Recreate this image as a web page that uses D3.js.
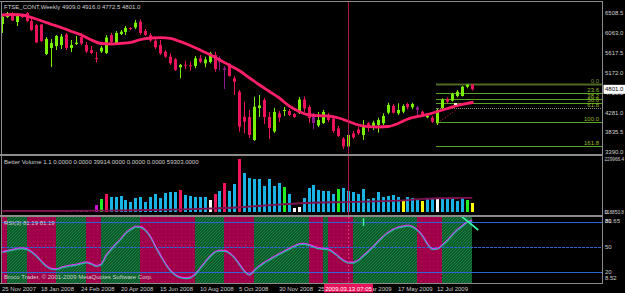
<!DOCTYPE html>
<html><head><meta charset="utf-8">
<script src="https://cdn.jsdelivr.net/npm/d3@7"></script>
<style>
html,body{margin:0;padding:0;background:#000;overflow:hidden}
svg{display:block}
text{font-family:"Liberation Sans",Arial,sans-serif;font-size:6px}
</style></head>
<body><svg id="chart" width="625" height="293"></svg>
<script>
// ---------- DATA ----------
const symbolTitle = "FTSE_CONT,Weekly  4909.0 4916.0 4772.5 4801.0";
const opens  = [6268,6425,6504,6313,6470,6515,6336,6246,6257,5594,5729,5774,5796,6032,5729,5819,5976,5797,5684,5505,5651,5617,6021,5841,6044,6089,6178,6190,6320,6111,6021,5893,5797,5646,5534,5475,5296,5354,5341,5325,5498,5385,5415,5572,5498,5273,5370,5049,4748,4186,4179,3663,4382,4561,4179,3854,4262,4314,4314,4247,4269,4572,4404,4202,3988,4045,4224,4146,3921,3697,3517,3809,3899,3775,4038,3961,3999,4038,4276,4426,4262,4298,4471,4397,4397,4298,4173,4164,4038,4375,4577,4545,4651,4651,4860,4909];
const highs  = [6470,6538,6538,6515,6493,6538,6381,6268,6268,5976,5931,6021,6044,6066,5909,5999,6066,5864,5774,5639,5774,6021,6066,6111,6133,6223,6201,6358,6369,6156,6066,5931,5909,5684,5610,5505,5370,5444,5421,5549,5572,5534,5646,5646,5549,5325,5392,5100,4786,4523,4337,4635,4673,4606,4292,4382,4314,4404,4359,4269,4628,4640,4449,4269,4292,4337,4269,4179,3977,3730,3820,3865,3961,4112,4067,4096,4164,4262,4501,4471,4487,4465,4501,4501,4426,4325,4247,4202,4375,4599,4622,4725,4786,4876,4914,4916];
const lows   = [6066,6403,6336,6223,6403,6313,6111,5841,5864,5572,5302,5684,5707,5684,5639,5797,5797,5617,5594,5403,5617,5594,5819,5819,6021,6021,6133,6156,6021,5999,5864,5707,5572,5505,5347,5212,5049,5251,5219,5273,5392,5296,5385,5197,5235,4808,5085,4673,3849,3813,3708,3640,4179,4022,3685,3820,4067,4202,4202,4157,4247,4292,4045,3910,3955,4022,4067,3820,3730,3461,3483,3685,3775,3663,3849,3887,3827,3999,4240,4258,4224,4262,4352,4352,4224,4202,4150,4045,3999,4337,4487,4523,4622,4640,4824,4772.5];
const closes = [6425,6515,6347,6493,6425,6336,6133,5853,5886,5931,5841,5999,5987,5729,5797,5848,5830,5650,5617,5489,5736,5965,5864,6066,6095,6178,6156,6297,6066,6021,5898,5745,5610,5534,5385,5235,5347,5341,5325,5498,5421,5471,5610,5257,5421,5235,5100,4972,3961,4074,3775,4411,4438,4179,3932,4292,4168,4337,4224,4179,4572,4370,4157,4045,4112,4292,4112,3865,3753,3517,3775,3724,3813,3977,3961,4051,4112,4202,4449,4276,4337,4426,4397,4471,4337,4224,4209,4074,4337,4561,4523,4696,4748,4860,4905,4801];
const purpleBars = [44,45,63,84];

const maIdx = [0,2,4,6,8,10,12,14,16,18,20,22,24,26,28,30,32,34,36,38,40,42,44,46,48,50,52,54,56,58,60,62,64,66,68,70,72,74,76,78,80,82,84,86,88,90,92,94,95];
const maVal = [6470,6482,6470,6410,6336,6257,6185,6100,6021,5909,5830,5819,5835,5857,5920,5954,5960,5943,5871,5785,5684,5579,5460,5336,5213,5055,4898,4752,4606,4426,4303,4224,4209,4202,4157,4078,3999,3961,3955,3966,4033,4134,4191,4236,4303,4370,4438,4487,4505];

const priceTicks = [6508.5,6063.0,5617.5,5172.0,4726.5,4281.0,3835.5,3390.0];
const lastPrice = 4801.0;

const fibHigh = 4916, fibLow = 4060, fibStartIdx = 88;
const fibLevels = [0.0,23.6,38.2,50.0,61.8,100.0,161.8];

const trendIdx = [88,92], trendPrice = [4045,4359];
const markerIdx = 91.6, markerPrice = 4471;

const volumeLabel = "Better Volume 1.1 0.0000 0.0000 39914.0000 0.0000 0.0000 59303.0000";
const volumes = [0,0,0,0,2500,0,0,2500,2500,2500,2500,2500,2500,2500,2500,2500,2500,2500,0,
 29537,54855,74687,62028,64560,67514,50635,42196,57809,63294,40930,63294,74687,60340,81438,84392,84392,92831,71733,66248,63294,61184,63294,50635,74687,89455,122368,89455,116883,223639,165830,144732,140513,137137,109710,138403,109710,121102,104224,75109,18988,22364,60340,101270,113929,91565,88612,86502,75953,97051,102536,89455,82282,75953,95785,54855,59074,82282,64560,68779,69623,62028,47681,62028,57809,50635,46416,53589,53589,53589,53589,57809,57809,46416,57809,50635,39914];
const volColors = ("----o--ododdonnnnn-" + "mgr" + "bbbbbbbbbbbbbb" + "r" + "bbbbb" + "w" + "r" + "b" + "r" + "bb" + "r" +
  "bbbbbbbb" + "g" + "b" + "ww" + "bbbbbbb" + "g" + "bbbbbbbbbbbb" + "y" + "bbb" + "y" + "bb" + "w" + "bbbbb" + "g" + "y").split("");
const volMaIdx = [0,10,20,30,40,48,55,60,70,80,85,88,95];
const volMaVal = [4200,4200,5500,8500,13000,20000,30000,37000,42500,48000,55000,58000,59303];
const volMax = 229966.4;
const volAxisLabels = ["229966.4","118850.8","0"];

const rsiLabel = "RSI(3) 81.19 81.19";
const rsiValues = [43.6,45,46,47.5,48,47,43.5,38.5,32,26.4,23.5,23,25,26.5,27.5,28.4,30,31.2,29.5,27,29,39.5,47,53.5,59.5,66.5,71,74,73.5,69.5,61.5,50,39.5,29.5,21.5,16,13.2,12.4,13,17,24.4,31.5,38.5,43.5,45.2,45,42,36.5,28.4,20.4,16.4,22,27,31,34.5,38,41.3,44.5,47.5,50.5,53,53.5,52,50,48.2,47.5,46.5,43,38,33.5,31,31,34,39.2,44.5,50,56.5,62,67,70.5,73,74.3,75.2,73.5,69.5,62.5,53,47,47.8,52.4,58,64.5,70.5,75,79.5,81.19];
const rsiMin = 8.52, rsiMax = 81.65;
const rsiLevels = [80,50,20];
const bandStarts = [0,1,5,11,17,20,28,39,45,51,62,65,66,71,84,89];
const bandTypes  = ["dn","up","dn","up","dn","up","dn","up","dn","up","dn","up","dn","up","dn","up"];
const bandEnd = 95;
const signalSegIdx = [92.9,96.2], signalSegVal = [86.4,70.4];
const signalTickIdx = [73,73], signalTickVal = [84.8,75.2];
const copyright = "Broco Trader, © 2001-2009 MetaQuotes Software Corp.";

const timeLabelIdx = [0,8,16,24,32,40,48,56,64,72,80,88];
const timeLabels = ["25 Nov 2007","18 Jan 2008","24 Feb 2008","20 Apr 2008","15 Jun 2008","10 Aug 2008","5 Oct 2008","30 Nov 2008","25 Jan 2009","22 Mar 2009","17 May 2009","12 Jul 2009"];
const crossIdx = 70, crossLabel = "2009.03.13 07:05";

// ---------- SCALES ----------
const svg = d3.select("#chart");
const x  = d3.scaleLinear().domain([0,95]).range([2.3,472.3]);
const px = i => Math.floor(x(i));
const yP = d3.scaleLinear().domain([3835.5,6508.5]).range([132.3,13.3]);
const yV = d3.scaleLinear().domain([0,volMax]).range([212,157.5]);
const yR = d3.scaleLinear().domain([rsiMin,rsiMax]).range([281.6,220.6]);
const AXR = 602.5;
const grey = "#8c8c8c", txt = "#cfcfcf";

const defs = svg.append("defs");
const hatch = defs.append("pattern").attr("id","hatch").attr("width",3).attr("height",3).attr("patternUnits","userSpaceOnUse");
hatch.append("rect").attr("width",3).attr("height",3).attr("fill","#0a5a2b");
hatch.append("path").attr("d","M-1,1L1,-1M0,3L3,0M2,4L4,2").attr("stroke","#1f8a45").attr("stroke-width",0.8);
const dots = defs.append("pattern").attr("id","dots").attr("width",4).attr("height",4).attr("patternUnits","userSpaceOnUse");
dots.append("rect").attr("width",4).attr("height",4).attr("fill","#9f0049");
dots.append("rect").attr("x",1).attr("y",1).attr("width",1).attr("height",1).attr("fill","#b8105a");
defs.append("clipPath").attr("id","mainClip").append("rect").attr("x",2).attr("y",2).attr("width",600).attr("height",151);

svg.append("rect").attr("width",625).attr("height",293).attr("fill","#000");

// ---------- RSI PANEL ----------
const rsiG = svg.append("g");
bandStarts.forEach((s,k)=>{
  const e = k < bandStarts.length-1 ? bandStarts[k+1] : bandEnd;
  const x0 = k === 0 ? 2 : px(s);
  rsiG.append("rect").attr("x",x0).attr("y",217).attr("width",px(e)-x0).attr("height",66)
    .attr("fill", bandTypes[k] === "up" ? "url(#hatch)" : "url(#dots)");
});
rsiLevels.forEach((lv,k)=>{
  rsiG.append("line").attr("x1",2).attr("x2",AXR).attr("y1",Math.round(yR(lv))+0.5).attr("y2",Math.round(yR(lv))+0.5)
    .attr("stroke","#2f63d8").attr("stroke-width",1).attr("stroke-dasharray", k===1 ? "3,1" : null);
});
const rsiLine = d3.line().x((d,i)=>x(i)).y(d=>yR(d)).curve(d3.curveMonotoneX);
rsiG.append("path").attr("d",rsiLine(rsiValues)).attr("fill","none").attr("stroke","#27b7a6").attr("stroke-width",1.6);
rsiG.append("path").attr("d",rsiLine(rsiValues)).attr("transform","translate(0,-0.9)").attr("fill","none").attr("stroke","#ff22ff").attr("stroke-width",1);
rsiG.append("line").attr("x1",x(signalSegIdx[0])).attr("x2",x(signalSegIdx[1])).attr("y1",yR(signalSegVal[0])).attr("y2",yR(signalSegVal[1]))
  .attr("stroke","#33f0a8").attr("stroke-width",1.8);
rsiG.append("line").attr("x1",px(signalTickIdx[0])+0.5).attr("x2",px(signalTickIdx[1])+0.5).attr("y1",yR(signalTickVal[0])).attr("y2",yR(signalTickVal[1]))
  .attr("stroke","#40f08c").attr("stroke-width",1.5);

// ---------- VOLUME PANEL ----------
const volColorMap = {b:"#1ab3e6", r:"#f0145a", g:"#22ee22", w:"#ffffff", y:"#ffff00", m:"#cc10cc", o:"#b86a00", d:"#8a2010", n:"#5a5a5a"};
const volG = svg.append("g");
volumes.forEach((v,i)=>{
  const c = volColors[i];
  if (c === "-" || v <= 0) return;
  const h = Math.max(yV(0)-yV(v),1.5);
  volG.append("rect").attr("x",px(i)-1).attr("y",yV(0)-h).attr("width",3).attr("height",h)
    .attr("fill",volColorMap[c]).attr("shape-rendering","crispEdges");
});
const volMaLine = d3.line().x((d,k)=>x(volMaIdx[k])).y(d=>yV(d)).curve(d3.curveMonotoneX);
volG.append("path").attr("d",volMaLine(volMaVal)).attr("fill","none").attr("stroke","#7e1250").attr("stroke-width",1.8);

// ---------- MAIN PANEL ----------
const mainG = svg.append("g").attr("clip-path","url(#mainClip)");
fibLevels.forEach(lv=>{
  const p = fibHigh - (fibHigh-fibLow)*lv/100;
  const yy = Math.round(yP(p))+0.5;
  mainG.append("line").attr("x1",px(fibStartIdx)-1).attr("x2",AXR).attr("y1",yy).attr("y2",yy)
    .attr("stroke", lv===0 ? "#4f6a22" : (lv===61.8 ? "#8a8a6a" : "#5aa222"))
    .attr("stroke-width", lv===0 ? 2 : 1)
    .attr("stroke-dasharray", lv===61.8 ? "1,1" : null);
  mainG.append("text").attr("x",599).attr("y",yy-1.5).attr("text-anchor","end")
    .attr("fill", lv===0 ? "#7f8f22" : "#9ab82a").text(lv.toFixed(1));
});
opens.forEach((o,i)=>{
  const c = closes[i], up = c >= o;
  const col = purpleBars.includes(i) ? "#8c1c8c" : (up ? "#78f000" : "#ea145c");
  const cx = px(i);
  mainG.append("line").attr("x1",cx+0.5).attr("x2",cx+0.5).attr("y1",yP(highs[i])).attr("y2",yP(lows[i]))
    .attr("stroke",col).attr("stroke-width",1);
  const top = yP(Math.max(o,c)), bh = Math.max(Math.abs(yP(o)-yP(c)),1);
  mainG.append("rect").attr("x",cx-1).attr("y",top).attr("width",3).attr("height",bh).attr("fill",col);
});
const maLine = d3.line().x((d,k)=>x(maIdx[k])).y(d=>yP(d)).curve(d3.curveMonotoneX);
mainG.append("path").attr("d",maLine(maVal)).attr("fill","none").attr("stroke","#ff1f6b").attr("stroke-width",2.8).attr("stroke-linecap","round");
mainG.append("line").attr("x1",x(trendIdx[0])).attr("x2",x(trendIdx[1])).attr("y1",yP(trendPrice[0])).attr("y2",yP(trendPrice[1]))
  .attr("stroke","#e0206a").attr("stroke-width",1).attr("stroke-dasharray","1,2");
mainG.append("rect").attr("x",x(markerIdx)-1.5).attr("y",yP(markerPrice)-1).attr("width",3).attr("height",2).attr("fill","#f4efd0");

// ---------- CROSSHAIR ----------
const cxL = px(crossIdx)+0.5;
svg.append("line").attr("x1",cxL).attr("x2",cxL).attr("y1",2).attr("y2",215).attr("stroke","#b0124a").attr("stroke-width",1);
svg.append("line").attr("x1",cxL).attr("x2",cxL).attr("y1",217).attr("y2",283).attr("stroke","#e02a6a").attr("stroke-width",1).attr("stroke-dasharray","2,2");

// ---------- FRAME ----------
const frame = svg.append("g").attr("stroke",grey).attr("shape-rendering","crispEdges");
frame.append("line").attr("x1",0).attr("x2",AXR).attr("y1",1.5).attr("y2",1.5);
frame.append("line").attr("x1",1.5).attr("x2",1.5).attr("y1",1).attr("y2",283.5);
frame.append("line").attr("x1",AXR).attr("x2",AXR).attr("y1",1).attr("y2",283.5);
frame.append("line").attr("x1",0).attr("x2",AXR).attr("y1",154.5).attr("y2",154.5).attr("stroke-width",2);
frame.append("line").attr("x1",0).attr("x2",AXR).attr("y1",215.5).attr("y2",215.5).attr("stroke-width",2);
frame.append("line").attr("x1",0).attr("x2",AXR).attr("y1",283.5).attr("y2",283.5);

// ---------- AXES ----------
const ax = svg.append("g").attr("fill",txt);
priceTicks.forEach(p=>{
  ax.append("text").attr("x",605).attr("y",yP(p)).attr("dy","0.35em").text(p.toFixed(1));
});
svg.append("rect").attr("x",603.5).attr("y",yP(lastPrice)-4.5).attr("width",21.5).attr("height",9).attr("fill","#fff");
svg.append("text").attr("x",605).attr("y",yP(lastPrice)).attr("dy","0.35em").attr("fill","#000").text(lastPrice.toFixed(1));
ax.append("text").attr("x",604.5).attr("y",Math.max(yV(volMax),159.5)).attr("dy","0.35em").style("font-size","5px")
  .attr("textLength",19.5).attr("lengthAdjust","spacingAndGlyphs").text(volAxisLabels[0]);
ax.append("text").attr("x",604.5).attr("y",212).attr("dy","0.35em").style("font-size","5px")
  .attr("textLength",19.5).attr("lengthAdjust","spacingAndGlyphs").text(volAxisLabels[1]);
ax.append("text").attr("x",604.5).attr("y",212).attr("dy","0.35em").text(volAxisLabels[2]);
ax.append("text").attr("x",605).attr("y",yR(rsiMax)).attr("dy","0.35em").text(rsiMax.toFixed(2));
rsiLevels.forEach(lv=>{
  ax.append("text").attr("x",605).attr("y",lv===80 ? yR(rsiMax) : yR(lv)).attr("dy","0.35em").text(lv);
});
ax.append("text").attr("x",605).attr("y",278).attr("dy","0.35em").text(rsiMin.toFixed(2));

timeLabelIdx.forEach((ti,k)=>{
  ax.append("text").attr("x",px(ti)).attr("y",290.5).text(timeLabels[k]);
});
const bxC = px(crossIdx)+0.5;
svg.append("rect").attr("x",bxC-24.5).attr("y",284).attr("width",49).attr("height",8.5).attr("fill","#e8125a");
svg.append("text").attr("x",bxC).attr("y",290.5).attr("text-anchor","middle").attr("fill","#ffffff").text(crossLabel);

// ---------- PANEL TEXTS ----------
svg.append("text").attr("x",4).attr("y",8.5).attr("fill",txt).text(symbolTitle);
svg.append("text").attr("x",4).attr("y",164).attr("fill",txt).text(volumeLabel);
svg.append("text").attr("x",4).attr("y",225).attr("fill",txt).text(rsiLabel);
svg.append("text").attr("x",4).attr("y",279).attr("fill",txt).text(copyright);
</script>
</body></html>
